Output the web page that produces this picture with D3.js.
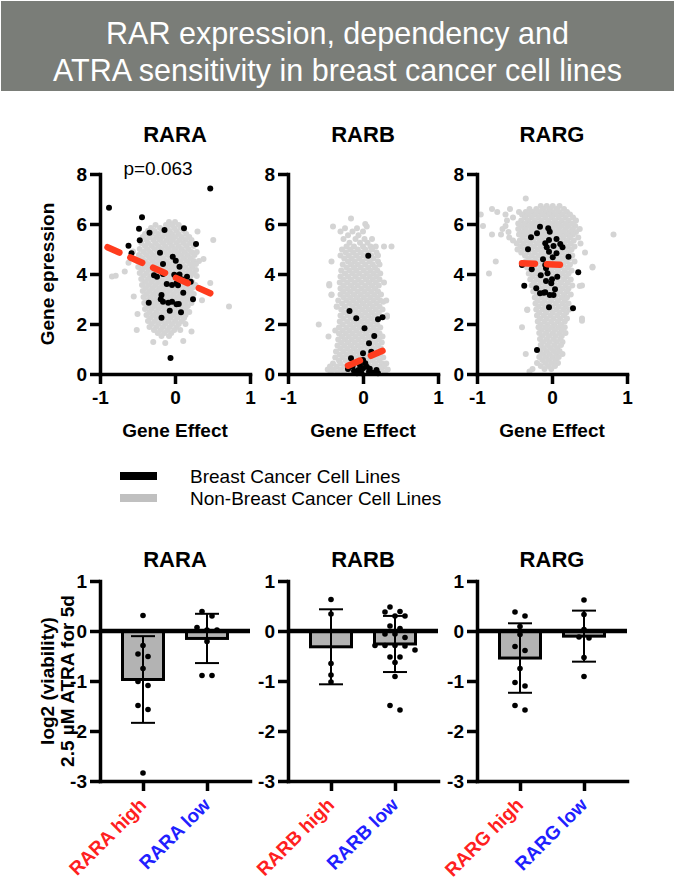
<!DOCTYPE html>
<html lang="en">
<head>
<meta charset="UTF-8">
<title>RAR expression, dependency and ATRA sensitivity</title>
<style>
  body { margin: 0; background: #fff; }
  svg { display: block; font-family: "Liberation Sans", Arial, sans-serif; }
</style>
</head>
<body>
<svg class="chart"></svg>
<script src="https://cdnjs.cloudflare.com/ajax/libs/d3/7.8.5/d3.min.js"></script>
<script>
// ---------------- data ----------------
const titleLines = ['RAR expression, dependency and', 'ATRA sensitivity in breast cancer cell lines'];
const genes = ['RARA', 'RARB', 'RARG'];
const pLabels = ['p=0.063', '', ''];
const expTicks = [0, 2, 4, 6, 8];
const effectTicks = [-1, 0, 1];
const viaTicks = [1, 0, -1, -2, -3];
const groups = ['high', 'low'];
const legendLabels = ['Breast Cancer Cell Lines', 'Non-Breast Cancer Cell Lines'];

// non-breast cell lines, read row by row: [expression, [gene effect ...]]
const rarAGrayRows = [
  [6.08, [-0.08, 0.0]],
  [5.96, [-0.26, -0.12, -0.04, 0.05]],
  [5.84, [-0.32, -0.2, -0.1, -0.01, 0.08]],
  [5.72, [-0.36, -0.27, -0.16, -0.07, 0.02, 0.12]],
  [5.6, [-0.4, -0.31, -0.22, -0.12, -0.04, 0.05, 0.15]],
  [5.48, [-0.43, -0.34, -0.25, -0.17, -0.08, 0.0, 0.09, 0.19]],
  [5.36, [-0.38, -0.29, -0.2, -0.11, -0.03, 0.06, 0.14, 0.22]],
  [5.24, [-0.45, -0.36, -0.26, -0.16, -0.07, 0.02, 0.11, 0.2]],
  [5.12, [-0.4, -0.31, -0.22, -0.13, -0.04, 0.05, 0.15, 0.25]],
  [5.0, [-0.47, -0.37, -0.27, -0.18, -0.09, 0.0, 0.09, 0.18]],
  [4.88, [-0.42, -0.33, -0.23, -0.14, -0.05, 0.04, 0.13, 0.22, 0.29]],
  [4.76, [-0.48, -0.38, -0.29, -0.2, -0.1, -0.01, 0.08, 0.17, 0.26]],
  [4.64, [-0.44, -0.34, -0.25, -0.16, -0.06, 0.03, 0.12, 0.21]],
  [4.52, [-0.5, -0.4, -0.3, -0.21, -0.12, -0.02, 0.07, 0.16, 0.25, 0.32]],
  [4.4, [-0.45, -0.36, -0.26, -0.17, -0.08, 0.01, 0.1, 0.2, 0.28]],
  [4.28, [-0.49, -0.4, -0.31, -0.22, -0.13, -0.04, 0.05, 0.14, 0.23]],
  [4.16, [-0.44, -0.35, -0.26, -0.17, -0.08, 0.01, 0.1, 0.19, 0.28]],
  [4.04, [-0.47, -0.38, -0.29, -0.2, -0.11, -0.02, 0.07, 0.16, 0.24]],
  [3.92, [-0.42, -0.33, -0.24, -0.15, -0.06, 0.03, 0.12, 0.21, 0.29]],
  [3.8, [-0.45, -0.36, -0.27, -0.18, -0.09, 0.0, 0.09, 0.18]],
  [3.68, [-0.4, -0.31, -0.22, -0.13, -0.04, 0.05, 0.14, 0.23]],
  [3.56, [-0.44, -0.35, -0.26, -0.17, -0.08, 0.01, 0.1, 0.19, 0.27]],
  [3.44, [-0.39, -0.3, -0.21, -0.12, -0.03, 0.06, 0.15, 0.23]],
  [3.32, [-0.43, -0.34, -0.25, -0.16, -0.07, 0.02, 0.11, 0.2]],
  [3.2, [-0.38, -0.29, -0.2, -0.11, -0.02, 0.07, 0.16, 0.25]],
  [3.08, [-0.42, -0.33, -0.24, -0.15, -0.06, 0.03, 0.12, 0.21]],
  [2.96, [-0.37, -0.28, -0.19, -0.1, -0.01, 0.08, 0.17]],
  [2.84, [-0.41, -0.32, -0.23, -0.14, -0.05, 0.04, 0.13, 0.22]],
  [2.72, [-0.36, -0.27, -0.18, -0.09, 0.0, 0.09, 0.17]],
  [2.6, [-0.4, -0.31, -0.22, -0.13, -0.04, 0.05, 0.14]],
  [2.48, [-0.34, -0.25, -0.16, -0.07, 0.02, 0.11, 0.19]],
  [2.36, [-0.38, -0.29, -0.2, -0.11, -0.02, 0.07, 0.14]],
  [2.24, [-0.33, -0.24, -0.15, -0.06, 0.03, 0.12]],
  [2.12, [-0.36, -0.27, -0.18, -0.09, 0.0, 0.09]],
  [2.0, [-0.31, -0.22, -0.13, -0.04, 0.05, 0.14]],
  [1.88, [-0.34, -0.25, -0.16, -0.07, 0.02]],
  [1.76, [-0.28, -0.19, -0.1, -0.01, 0.07]],
  [1.64, [-0.23, -0.14, -0.05]],
  [1.52, [-0.18, -0.08]]
];
const rarAGrayExtra = [[-0.84, 3.9], [-0.79, 3.93], [-0.67, 4.1], [0.51, 5.36], [0.47, 3.64], [0.72, 2.7],
  [-0.51, 1.76], [-0.29, 1.28], [-0.13, 1.24], [0.11, 1.32], [-0.56, 4.9], [0.38, 4.6], [0.36, 2.95],
  [-0.55, 3.1], [0.3, 5.7], [-0.5, 2.4], [0.22, 1.7], [-0.62, 4.45]];

const rarBGrayRows = [
  [6.22, [-0.16]],
  [6.0, [0.03]],
  [5.9, [-0.4, 0.05]],
  [5.83, [-0.24, -0.08]],
  [5.7, [-0.3, -0.14, 0.0]],
  [5.55, [-0.2, -0.06]],
  [5.4, [-0.26, -0.1, 0.02, 0.12]],
  [5.25, [-0.18, -0.04, 0.06]],
  [5.1, [-0.22, -0.12, 0.0, 0.1, 0.17, 0.28, 0.38]],
  [4.98, [-0.28, -0.17, -0.07, 0.03, 0.12]],
  [4.86, [-0.23, -0.13, -0.03, 0.07, 0.18]],
  [4.74, [-0.3, -0.19, -0.09, 0.01, 0.11, 0.2]],
  [4.62, [-0.25, -0.15, -0.05, 0.05, 0.14]],
  [4.5, [-0.42, -0.2, -0.11, -0.01, 0.09, 0.2]],
  [4.38, [-0.27, -0.16, -0.07, 0.03, 0.13, 0.22]],
  [4.26, [-0.22, -0.12, -0.03, 0.07, 0.16]],
  [4.14, [-0.29, -0.18, -0.09, 0.01, 0.1, 0.19]],
  [4.02, [-0.24, -0.14, -0.05, 0.05, 0.14, 0.23]],
  [3.9, [-0.3, -0.2, -0.1, 0.0, 0.09, 0.18]],
  [3.78, [-0.26, -0.16, -0.06, 0.04, 0.13, 0.22]],
  [3.66, [-0.31, -0.21, -0.11, -0.02, 0.08, 0.17, 0.28]],
  [3.54, [-0.45, -0.26, -0.16, -0.07, 0.03, 0.12, 0.21]],
  [3.42, [-0.3, -0.21, -0.12, -0.02, 0.07, 0.16]],
  [3.3, [-0.26, -0.17, -0.07, 0.02, 0.11, 0.2]],
  [3.18, [-0.42, -0.3, -0.21, -0.12, -0.03, 0.06, 0.15, 0.24]],
  [3.06, [-0.26, -0.17, -0.08, 0.01, 0.1, 0.19]],
  [2.94, [-0.33, -0.22, -0.13, -0.04, 0.05, 0.14, 0.23, 0.31]],
  [2.82, [-0.28, -0.18, -0.09, 0.0, 0.09, 0.18]],
  [2.7, [-0.35, -0.24, -0.14, -0.05, 0.04, 0.13, 0.22]],
  [2.58, [-0.29, -0.19, -0.1, -0.01, 0.08, 0.17, 0.26]],
  [2.46, [-0.25, -0.15, -0.06, 0.03, 0.12, 0.21]],
  [2.34, [-0.3, -0.2, -0.11, -0.02, 0.07, 0.16, 0.32]],
  [2.22, [-0.26, -0.16, -0.07, 0.02, 0.11, 0.2]],
  [2.1, [-0.31, -0.21, -0.12, -0.03, 0.06, 0.15]],
  [1.98, [-0.59, -0.27, -0.17, -0.08, 0.01, 0.1, 0.19]],
  [1.86, [-0.32, -0.22, -0.13, -0.04, 0.05, 0.14, 0.23]],
  [1.74, [-0.37, -0.27, -0.18, -0.09, 0.0, 0.09, 0.18]],
  [1.62, [-0.32, -0.23, -0.14, -0.05, 0.04, 0.13, 0.22]],
  [1.5, [-0.46, -0.28, -0.19, -0.1, -0.01, 0.08, 0.17, 0.26]],
  [1.38, [-0.33, -0.24, -0.15, -0.06, 0.03, 0.12, 0.21]],
  [1.26, [-0.29, -0.2, -0.11, -0.02, 0.07, 0.16, 0.25]],
  [1.14, [-0.34, -0.25, -0.16, -0.07, 0.02, 0.11, 0.2]],
  [1.02, [-0.3, -0.21, -0.12, -0.03, 0.06, 0.15, 0.24]],
  [0.9, [-0.36, -0.26, -0.17, -0.08, 0.01, 0.1, 0.19]],
  [0.78, [-0.31, -0.22, -0.13, -0.04, 0.05, 0.14, 0.23]],
  [0.66, [-0.37, -0.27, -0.18, -0.09, 0.0, 0.09, 0.18, 0.27]],
  [0.54, [-0.32, -0.23, -0.14, -0.05, 0.04, 0.13, 0.22]],
  [0.42, [-0.4, -0.3, -0.2, -0.11, -0.02, 0.07, 0.16, 0.25, 0.31]],
  [0.3, [-0.44, -0.35, -0.25, -0.16, -0.07, 0.02, 0.11, 0.2, 0.28]],
  [0.18, [-0.47, -0.39, -0.3, -0.21, -0.12, -0.03, 0.06, 0.15, 0.24, 0.33]],
  [0.07, [-0.43, -0.34, -0.25, -0.16, -0.07, 0.02, 0.11, 0.2, 0.29]]
];
const rarBGrayExtra = [[0.27, 2.89], [0.32, 2.29], [-0.35, 2.69], [-0.45, 3.6], [-0.42, 3.16]];

const rarGGrayRows = [
  [7.02, [-0.35]],
  [6.72, [-0.15, -0.07, 0.01, 0.1]],
  [6.6, [-0.8, -0.56, -0.3, -0.21, -0.12, -0.03, 0.06, 0.16]],
  [6.48, [-0.73, -0.44, -0.35, -0.26, -0.17, -0.08, 0.01, 0.1, 0.2]],
  [6.38, [-0.95, -0.62, -0.4, -0.31, -0.22, -0.13, -0.04, 0.05, 0.14, 0.24]],
  [6.26, [-0.52, -0.36, -0.27, -0.18, -0.09, 0.0, 0.09, 0.18, 0.28]],
  [6.14, [-0.6, -0.41, -0.32, -0.23, -0.14, -0.05, 0.04, 0.13, 0.22, 0.32]],
  [6.02, [-0.45, -0.36, -0.27, -0.18, -0.09, 0.0, 0.09, 0.18, 0.27]],
  [5.92, [-0.92, -0.62, -0.41, -0.32, -0.23, -0.14, -0.05, 0.04, 0.13, 0.22, 0.31]],
  [5.8, [-0.66, -0.45, -0.36, -0.27, -0.18, -0.09, 0.0, 0.09, 0.18, 0.27, 0.37]],
  [5.68, [-0.58, -0.4, -0.31, -0.22, -0.13, -0.04, 0.05, 0.14, 0.23, 0.32]],
  [5.58, [-0.8, -0.68, -0.44, -0.35, -0.26, -0.17, -0.08, 0.01, 0.1, 0.19, 0.28, 0.82]],
  [5.46, [-0.57, -0.39, -0.3, -0.21, -0.12, -0.03, 0.06, 0.15, 0.24, 0.35]],
  [5.34, [-0.52, -0.43, -0.34, -0.25, -0.16, -0.07, 0.02, 0.11, 0.2, 0.29]],
  [5.22, [-0.47, -0.38, -0.29, -0.2, -0.11, -0.02, 0.07, 0.16, 0.25, 0.38]],
  [5.1, [-0.42, -0.33, -0.24, -0.15, -0.06, 0.03, 0.12, 0.21, 0.3]],
  [4.98, [-0.46, -0.37, -0.28, -0.19, -0.1, -0.01, 0.08, 0.17, 0.26]],
  [4.86, [-0.41, -0.32, -0.23, -0.14, -0.05, 0.04, 0.13, 0.22, 0.44]],
  [4.74, [-0.36, -0.27, -0.18, -0.09, 0.0, 0.09, 0.18, 0.27]],
  [4.62, [-0.31, -0.22, -0.13, -0.04, 0.05, 0.14, 0.23]],
  [4.5, [-0.75, -0.35, -0.26, -0.17, -0.08, 0.01, 0.1, 0.19, 0.3]],
  [4.38, [-0.3, -0.21, -0.12, -0.03, 0.06, 0.15, 0.24]],
  [4.26, [-0.33, -0.24, -0.15, -0.06, 0.03, 0.12, 0.21, 0.54]],
  [4.14, [-0.28, -0.19, -0.1, -0.01, 0.08, 0.17, 0.26]],
  [4.02, [-0.84, -0.31, -0.22, -0.13, -0.04, 0.05, 0.14, 0.22]],
  [3.9, [-0.26, -0.17, -0.08, 0.01, 0.1, 0.19]],
  [3.78, [-0.29, -0.2, -0.11, -0.02, 0.07, 0.16, 0.25]],
  [3.66, [-0.24, -0.15, -0.06, 0.03, 0.12, 0.21]],
  [3.54, [-0.27, -0.18, -0.09, 0.0, 0.09, 0.18, 0.27, 0.4]],
  [3.42, [-0.22, -0.13, -0.04, 0.05, 0.14, 0.22]],
  [3.3, [-0.25, -0.16, -0.07, 0.02, 0.11, 0.2]],
  [3.18, [-0.2, -0.11, -0.02, 0.07, 0.16, 0.25]],
  [3.06, [-0.23, -0.14, -0.05, 0.04, 0.13, 0.2]],
  [2.94, [-0.19, -0.1, -0.01, 0.08, 0.17]],
  [2.82, [-0.22, -0.13, -0.04, 0.05, 0.14, 0.22]],
  [2.7, [-0.18, -0.09, 0.0, 0.09, 0.18]],
  [2.58, [-0.33, -0.21, -0.12, -0.03, 0.06, 0.15, 0.23]],
  [2.46, [-0.17, -0.08, 0.01, 0.1, 0.19]],
  [2.34, [-0.2, -0.11, -0.02, 0.07, 0.16]],
  [2.22, [-0.16, -0.07, 0.02, 0.11, 0.2, 0.4]],
  [2.1, [-0.19, -0.1, -0.01, 0.08, 0.17]],
  [1.98, [-0.15, -0.06, 0.03, 0.12]],
  [1.87, [-0.4, -0.18, -0.09, 0.0, 0.09, 0.17]],
  [1.76, [-0.14, -0.05, 0.04, 0.13]],
  [1.64, [-0.17, -0.08, 0.01, 0.1, 0.18]],
  [1.52, [-0.13, -0.04, 0.05, 0.13]],
  [1.4, [-0.16, -0.07, 0.02, 0.11]],
  [1.28, [-0.12, -0.03, 0.06, 0.14]],
  [1.16, [-0.15, -0.06, 0.03, 0.12]],
  [1.04, [-0.11, -0.02, 0.07]],
  [0.92, [-0.16, -0.07, 0.02, 0.1]],
  [0.8, [-0.35, -0.12, -0.03, 0.06, 0.14]],
  [0.68, [-0.17, -0.08, 0.01, 0.09]],
  [0.56, [-0.13, -0.04, 0.05]],
  [0.44, [-0.2, -0.09, 0.0, 0.08]],
  [0.32, [-0.15, -0.05, 0.04]],
  [0.2, [-0.26, -0.1, -0.01]],
  [0.1, [-0.3]]
];
const rarGGrayExtra = [[0.54, 4.29], [0.4, 2.13], [0.37, 3.52], [-0.33, 2.56]];

// breast cancer cell lines: [gene effect, expression]
const rarABreast = [[-0.88, 6.65], [0.47, 7.42], [-0.44, 6.27], [-0.48, 5.81], [-0.34, 5.65], [-0.14, 5.76],
  [-0.47, 5.35], [0.12, 5.83], [-0.62, 5.13], [-0.58, 4.83], [0.28, 5.2], [-0.2, 4.85], [-0.03, 4.69],
  [0.01, 4.53], [0.06, 4.29], [-0.16, 4.4], [-0.28, 3.95], [-0.24, 3.89], [-0.16, 4.0], [-0.01, 3.97],
  [0.06, 3.98], [0.09, 3.79], [0.16, 3.89], [0.21, 3.69], [-0.11, 3.6], [-0.04, 3.56], [0.02, 3.63],
  [0.04, 3.55], [0.11, 3.25], [-0.18, 3.16], [0.24, 2.99], [-0.35, 2.85], [-0.19, 2.99], [-0.16, 2.89],
  [-0.09, 2.85], [-0.04, 2.89], [0.02, 2.79], [0.05, 2.8], [-0.07, 2.53], [0.08, 2.47], [-0.18, 2.25],
  [-0.06, 0.64]];
const rarBBreast = [[0.07, 4.73], [-0.18, 2.52], [-0.09, 2.23], [0.2, 2.19], [0.26, 2.27], [0.02, 1.83],
  [0.15, 1.52], [0.08, 1.23], [0.11, 0.89], [0.0, 0.83], [-0.16, 0.63], [-0.2, 0.2], [-0.12, 0.12],
  [-0.06, 0.16], [0.0, 0.23], [0.03, 0.43], [0.05, 0.29], [0.08, 0.09], [0.18, 0.16], [0.2, 0.03],
  [-0.02, 0.03], [-0.08, 0.03], [0.09, 0.21], [0.0, 0.56], [-0.04, 0.36], [0.13, 0.05], [-0.14, 0.3]];
const rarGBreast = [[-0.16, 5.89], [-0.05, 5.83], [-0.03, 5.69], [-0.28, 5.47], [-0.2, 5.63], [0.06, 5.4],
  [-0.04, 5.36], [-0.09, 5.23], [-0.07, 5.07], [0.02, 5.12], [0.11, 5.2], [0.14, 5.07], [-0.32, 4.99],
  [-0.04, 4.89], [0.06, 4.83], [0.01, 4.67], [0.22, 4.69], [-0.12, 4.59], [-0.4, 4.36], [-0.09, 4.36],
  [-0.27, 4.19], [-0.08, 4.23], [0.35, 4.07], [-0.06, 4.03], [-0.15, 3.95], [0.07, 3.89], [0.0, 3.79],
  [-0.08, 3.72], [-0.37, 3.53], [-0.21, 3.43], [-0.01, 3.63], [0.04, 3.39], [-0.16, 3.23], [-0.11, 3.25],
  [-0.09, 3.27], [-0.03, 3.16], [0.02, 3.16], [-0.04, 2.67], [0.28, 2.63], [-0.2, 0.96]];

// regression line end points for breast cancer lines
const rarAFit = [[-0.9, 5.07], [0.47, 3.23]];
const rarBFit = [[-0.2, 0.33], [0.26, 0.93]];
const rarGFit = [[-0.4, 4.43], [0.23, 4.36]];

// log2 viability after ATRA, per cell line
const viaRARAhigh = [0.31, -0.29, -0.46, -0.51, -0.75, -1.01, -1.09, -1.49, -1.57, -2.84];
const viaRARAlow = [0.39, 0.30, 0.07, 0.02, 0.02, -0.21, -0.89, -0.89];
const viaRARBhigh = [0.63, 0.34, -0.65, -0.88, -1.02];
const viaRARBlow = [0.48, 0.39, 0.38, 0.30, 0.30, 0.10, 0.05, -0.06, -0.06, -0.13, -0.29, -0.29, -0.29,
  -0.30, -0.38, -0.52, -0.52, -0.63, -0.91, -1.49, -1.58];
const viaRARGhigh = [0.38, 0.30, 0.09, -0.07, -0.31, -0.39, -0.75, -1.03, -1.10, -1.49, -1.58];
const viaRARGlow = [0.62, 0.33, 0.03, -0.12, -0.14, -0.53, -0.91];

// ---------------- layout ----------------
const FONT = '"Liberation Sans", Arial, sans-serif';
const width = 675, height = 880;
const panelLeft = [100, 288, 477];
const panelW = 150;
const red = '#ff3c1e';

const svg = d3.select('.chart').attr('width', width).attr('height', height);

// title banner
svg.append('rect')
  .attr('x', 1).attr('y', 1).attr('width', width - 2).attr('height', 90)
  .attr('fill', '#7a7d78');
svg.selectAll('.title').data(titleLines).enter().append('text')
  .attr('class', 'title')
  .attr('x', width / 2)
  .attr('y', (d, i) => 44 + i * 37)
  .attr('text-anchor', 'middle')
  .attr('fill', '#fff')
  .style('font-size', '30.5px')
  .text(d => d);

function styleAxis(g) {
  g.attr('font-family', null).attr('font-size', null);
  g.select('.domain').attr('stroke', '#000').attr('stroke-width', 3.5).attr('stroke-linecap', 'square');
  g.selectAll('.tick line').attr('stroke', '#000').attr('stroke-width', 3.5);
  g.selectAll('.tick text').attr('fill', '#000')
    .style('font-family', FONT).style('font-size', '19px').style('font-weight', 'bold');
}

// ---------------- scatter panels ----------------
const scatterSets = [
  { gray: rarAGrayRows, extra: rarAGrayExtra, breast: rarABreast, fit: rarAFit },
  { gray: rarBGrayRows, extra: rarBGrayExtra, breast: rarBBreast, fit: rarBFit },
  { gray: rarGGrayRows, extra: rarGGrayExtra, breast: rarGBreast, fit: rarGFit }
];

const yExp = d3.scaleLinear().domain([0, 8]).range([374, 174]);
const xEff = d3.scaleLinear().domain([-1, 1]).range([0, panelW]);

scatterSets.forEach((s, i) => {
  const g = svg.append('g').attr('transform', `translate(${panelLeft[i]},0)`);

  const grayPts = s.gray.flatMap(([y, xs]) => xs.map(x => [x, y])).concat(s.extra);

  g.append('g').selectAll('circle').data(grayPts).enter().append('circle')
    .attr('cx', d => xEff(d[0]))
    .attr('cy', d => yExp(d[1]))
    .attr('r', 3)
    .attr('fill', '#d4d4d4');

  g.append('g').selectAll('circle').data(s.breast).enter().append('circle')
    .attr('cx', d => xEff(d[0]))
    .attr('cy', d => yExp(d[1]))
    .attr('r', 3)
    .attr('fill', '#000');

  g.append('g').call(d3.axisLeft(yExp).tickValues(expTicks).tickSize(10).tickPadding(3)
      .tickSizeOuter(0).tickFormat(String))
    .call(styleAxis);
  g.append('g').attr('transform', `translate(0,${yExp(0)})`)
    .call(d3.axisBottom(xEff).tickValues(effectTicks).tickSize(10).tickPadding(7)
      .tickSizeOuter(0).tickFormat(String))
    .call(styleAxis);

  g.append('path')
    .datum(s.fit)
    .attr('d', d3.line().x(d => xEff(d[0])).y(d => yExp(d[1])))
    .attr('fill', 'none')
    .attr('stroke', red)
    .attr('stroke-width', 6.5)
    .attr('stroke-linecap', 'round')
    .attr('stroke-dasharray', '13,12');

  g.append('text')
    .attr('x', panelW / 2).attr('y', 142)
    .attr('text-anchor', 'middle')
    .style('font-size', '22px').style('font-weight', 'bold')
    .text(genes[i]);

  if (pLabels[i]) {
    g.append('text')
      .attr('x', panelW / 2 - 17).attr('y', 175)
      .attr('text-anchor', 'middle')
      .style('font-size', '19px')
      .text(pLabels[i]);
  }

  g.append('text')
    .attr('x', panelW / 2).attr('y', 437)
    .attr('text-anchor', 'middle')
    .style('font-size', '19px').style('font-weight', 'bold')
    .text('Gene Effect');
});

svg.append('text')
  .attr('transform', `translate(54,${(yExp(0) + yExp(8)) / 2}) rotate(-90)`)
  .attr('text-anchor', 'middle')
  .style('font-size', '19px').style('font-weight', 'bold')
  .text('Gene epression');

// legend
const legend = svg.append('g');
legend.selectAll('rect').data(legendLabels).enter().append('rect')
  .attr('x', 120).attr('y', (d, i) => 472 + i * 22)
  .attr('width', 37).attr('height', 8)
  .attr('fill', (d, i) => i === 0 ? '#000' : '#c0c0c0');
legend.selectAll('text').data(legendLabels).enter().append('text')
  .attr('x', 190).attr('y', (d, i) => 483 + i * 22)
  .style('font-size', '19px')
  .text(d => d);

// ---------------- viability bar panels ----------------
const viability = {
  RARA: { high: viaRARAhigh, low: viaRARAlow },
  RARB: { high: viaRARBhigh, low: viaRARBlow },
  RARG: { high: viaRARGhigh, low: viaRARGlow }
};

const yVia = d3.scaleLinear().domain([-3, 1]).range([781, 581]);
const xGrp = d3.scalePoint().domain(groups).range([0, panelW]).padding(0.672);
const barW = 41, capW = 24, dotStep = 10;

// points at (nearly) the same level are spread side by side
function swarm(vals) {
  const sorted = vals.slice().sort((a, b) => b - a);
  const out = [];
  let row = [];
  const flush = () => {
    row.forEach((v, k) => out.push({ v, dx: (k - (row.length - 1) / 2) * dotStep }));
    row = [];
  };
  sorted.forEach(v => {
    if (row.length && row[0] - v > 0.0905) flush();
    row.push(v);
  });
  flush();
  return out;
}

genes.forEach((gene, i) => {
  const g = svg.append('g').attr('transform', `translate(${panelLeft[i]},0)`);
  const stats = groups.map(grp => {
    const vals = viability[gene][grp];
    return { grp, vals, mean: d3.mean(vals), sd: d3.deviation(vals) };
  });

  g.selectAll('.bar').data(stats).enter().append('rect')
    .attr('class', 'bar')
    .attr('x', d => xGrp(d.grp) - barW / 2)
    .attr('y', d => yVia(Math.max(0, d.mean)))
    .attr('width', barW)
    .attr('height', d => Math.abs(yVia(d.mean) - yVia(0)))
    .attr('fill', '#b3b3b3')
    .attr('stroke', '#000')
    .attr('stroke-width', 3);

  g.append('g').attr('transform', `translate(0,${yVia(-3)})`)
    .call(d3.axisBottom(xGrp).tickSize(10).tickSizeOuter(0))
    .call(styleAxis)
    .call(ax => ax.selectAll('.tick text')
      .text(d => `${gene} ${d}`)
      .attr('fill', d => d === 'high' ? '#ff2020' : '#2020ff')
      .attr('text-anchor', 'end')
      .attr('y', null).attr('dy', null)
      .attr('transform', 'translate(4,25) rotate(-45)'));

  g.append('g').call(d3.axisLeft(yVia).tickValues(viaTicks).tickSize(10).tickPadding(3)
      .tickSizeOuter(0).tickFormat(String))
    .call(styleAxis);

  // zero line
  g.append('line')
    .attr('x1', 0).attr('x2', panelW)
    .attr('y1', yVia(0)).attr('y2', yVia(0))
    .attr('stroke', '#000').attr('stroke-width', 4.5);

  // mean +/- SD
  const err = g.selectAll('.err').data(stats).enter().append('g').attr('class', 'err')
    .attr('stroke', '#000').attr('stroke-width', 2);
  err.append('line')
    .attr('x1', d => xGrp(d.grp)).attr('x2', d => xGrp(d.grp))
    .attr('y1', d => yVia(d.mean + d.sd)).attr('y2', d => yVia(d.mean - d.sd));
  err.append('line')
    .attr('x1', d => xGrp(d.grp) - capW / 2).attr('x2', d => xGrp(d.grp) + capW / 2)
    .attr('y1', d => yVia(d.mean + d.sd)).attr('y2', d => yVia(d.mean + d.sd));
  err.append('line')
    .attr('x1', d => xGrp(d.grp) - capW / 2).attr('x2', d => xGrp(d.grp) + capW / 2)
    .attr('y1', d => yVia(d.mean - d.sd)).attr('y2', d => yVia(d.mean - d.sd));

  stats.forEach(st => {
    g.append('g').selectAll('circle').data(swarm(st.vals)).enter().append('circle')
      .attr('cx', d => xGrp(st.grp) + d.dx)
      .attr('cy', d => yVia(d.v))
      .attr('r', 2.8)
      .attr('fill', '#000');
  });

  g.append('text')
    .attr('x', panelW / 2).attr('y', 567)
    .attr('text-anchor', 'middle')
    .style('font-size', '22px').style('font-weight', 'bold')
    .text(gene);
});

svg.append('text')
  .attr('transform', `translate(0,${(yVia(1) + yVia(-3)) / 2}) rotate(-90)`)
  .attr('text-anchor', 'middle')
  .style('font-size', '19px').style('font-weight', 'bold')
  .selectAll('tspan').data(['log2 (viability)', '2.5 µM ATRA for 5d']).enter().append('tspan')
  .attr('x', 0)
  .attr('y', (d, i) => 54 + i * 20)
  .text(d => d);
</script>
</body>
</html>
